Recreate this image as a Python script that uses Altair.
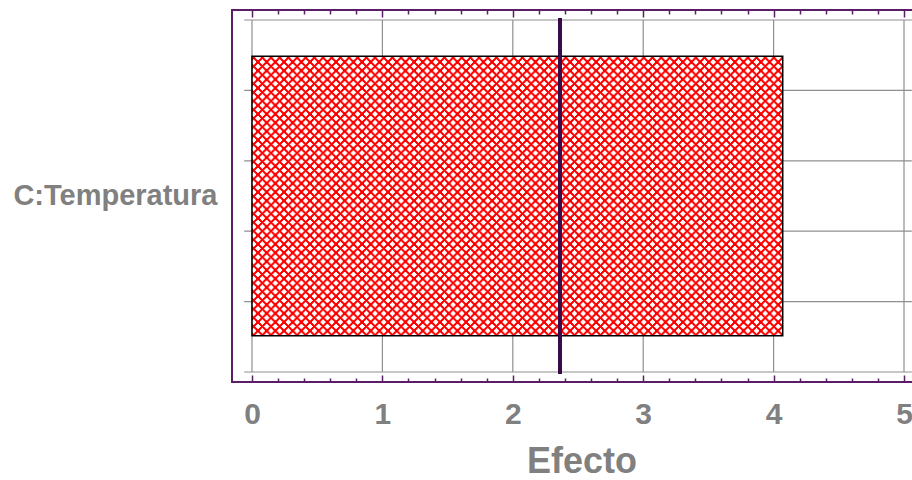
import altair as alt
import pandas as pd
import jinja2
from altair.utils import html as alt_html

# ---------------- data ----------------
factors = ["C:Temperatura"]
effects = [4.07]
t_value_limit = [2.362]
x_major = [0, 1, 2, 3, 4, 5]
x_minor = [0.2, 0.4, 0.6, 0.8, 1.2, 1.4, 1.6, 1.8, 2.2, 2.4, 2.6, 2.8,
           3.2, 3.4, 3.6, 3.8, 4.2, 4.4, 4.6, 4.8]
y_grid = [0, 1, 2, 3, 4, 5]
x_domain = [-0.1533, 5.1533]
y_domain = [-0.142, 5.142]
hgrid_extent = [-0.06, 5.06]

# ---------------- style ----------------
FONT = "Liberation Sans"
GRAY = "#808080"
PURPLE = "#5a1e66"
DARK = "#3b0a48"
GRID = "#8f8f8f"

xs = alt.Scale(domain=x_domain, nice=False, zero=False)
yq = alt.Scale(domain=y_domain, nice=False, zero=False)

# horizontal grid lines
hgrid = alt.Chart(pd.DataFrame({"v": y_grid})).mark_rule(
    color=GRID, strokeWidth=1.2).encode(
    y=alt.Y("v:Q", scale=yq, axis=None),
    x=alt.XDatum(hgrid_extent[0], scale=xs, axis=None),
    x2=alt.X2Datum(hgrid_extent[1]),
)

# vertical grid lines + bottom labelled axis
vgrid = alt.Chart(pd.DataFrame({"v": x_major})).mark_rule(
    color=GRID, strokeWidth=1.2).encode(
    x=alt.X("v:Q", scale=xs, axis=alt.Axis(
        orient="bottom", values=x_major, offset=-7, tickSize=7,
        tickColor=PURPLE, tickWidth=1.5, domain=False, grid=False,
        format="d", labelFlush=False,
        labelFont=FONT, labelFontSize=30, labelFontWeight="bold",
        labelColor=GRAY, labelPadding=17,
        title="Efecto", titleFont=FONT, titleFontSize=36,
        titleFontWeight="bold", titleColor=GRAY,
        titleBaseline="alphabetic", titleAlign="center",
        titleX=349.5, titleY=97)),
    y=alt.YDatum(y_grid[0], scale=yq, axis=None),
    y2=alt.Y2Datum(y_grid[-1]),
)


def tick_layer(values, orient, size):
    return alt.Chart(pd.DataFrame({"v": values})).mark_rule(
        strokeOpacity=0).encode(
        x=alt.X("v:Q", scale=xs, axis=alt.Axis(
            orient=orient, values=values, offset=-size, tickSize=size,
            tickColor=PURPLE, tickWidth=1.5, domain=False, grid=False,
            labels=False, title=None)),
    )


bottom_minor = tick_layer(x_minor, "bottom", 4)
top_major = tick_layer(x_major, "top", 7)
top_minor = tick_layer(x_minor, "top", 4)

# effect bar
bars = alt.Chart(pd.DataFrame({"factor": factors, "effect": effects})).mark_bar(
    fill="url(#hatch)", stroke="#000000", strokeWidth=1.5, orient="horizontal"
).encode(
    x=alt.X("effect:Q", scale=xs, axis=None),
    y=alt.Y("factor:N", scale=alt.Scale(paddingInner=0, paddingOuter=0.166),
            axis=alt.Axis(orient="left", title=None, ticks=False, tickSize=0,
                          domain=False, grid=False, labelFont=FONT,
                          labelFontSize=29, labelFontWeight="bold",
                          labelColor=GRAY, labelPadding=15, labelLimit=400)),
)

# t-value limit line
tline = alt.Chart(pd.DataFrame({"t": t_value_limit})).mark_rule(
    color=DARK, strokeWidth=4, strokeCap="square").encode(
    x=alt.X("t:Q", scale=xs, axis=None),
    y=alt.YDatum(y_grid[0], scale=yq, axis=None),
    y2=alt.Y2Datum(y_grid[-1]),
)

chart = alt.layer(
    hgrid, vgrid, bottom_minor, top_major, top_minor, bars, tline
).resolve_scale(
    y="independent"
).resolve_axis(
    x="independent", y="independent"
).properties(
    width=692, height=372,
    padding={"left": 232, "top": 10, "right": 0, "bottom": 98},
    autosize=alt.AutoSizeParams(type="none"),
).configure_view(
    stroke=PURPLE, strokeWidth=2
)

# cross-hatch pattern definition injected into the page
P = 8.67
DEFS = (
    '<style>html,body{margin:0;padding:0;overflow:hidden}'
    '.vega-embed{display:block!important;width:auto!important}'
    '.vega-embed svg{flex-shrink:0;max-width:none!important}</style>'
    '<svg width="0" height="0" style="position:absolute;width:0;height:0;overflow:hidden" aria-hidden="true">'
    '<defs><pattern id="hatch" patternUnits="userSpaceOnUse" width="%g" height="%g">'
    '<rect x="0" y="0" width="%g" height="%g" fill="#ffffff"/>'
    '<path d="M0,0L%g,%g M%g,0L0,%g M-2,%gL2,%g M%g,-2L%g,2 M-2,2L2,-2 M%g,%gL%g,%g" '
    'stroke="#ff0000" stroke-width="1.6" fill="none" shape-rendering="crispEdges"/>'
    '</pattern></defs></svg>'
) % (P, P, P, P, P, P, P, P, P - 2, P + 2, P - 2, P + 2, P - 2, P + 2, P + 2, P - 2)

_base = getattr(alt_html, "TEMPLATES", {}).get("standard", getattr(alt_html, "HTML_TEMPLATE", None))


class HatchTemplate(jinja2.Template):
    def render(self, *args, **kwargs):
        page = _base.render(*args, **kwargs)
        if "<body>" in page:
            return page.replace("<body>", "<body>\n" + DEFS, 1)
        return DEFS + page


try:
    chart.save("out.html", embed_options={"renderer": "svg", "actions": False},
               template=HatchTemplate("{{ spec }}"))
except Exception:
    chart.save("out.html", embed_options={"renderer": "svg", "actions": False})
